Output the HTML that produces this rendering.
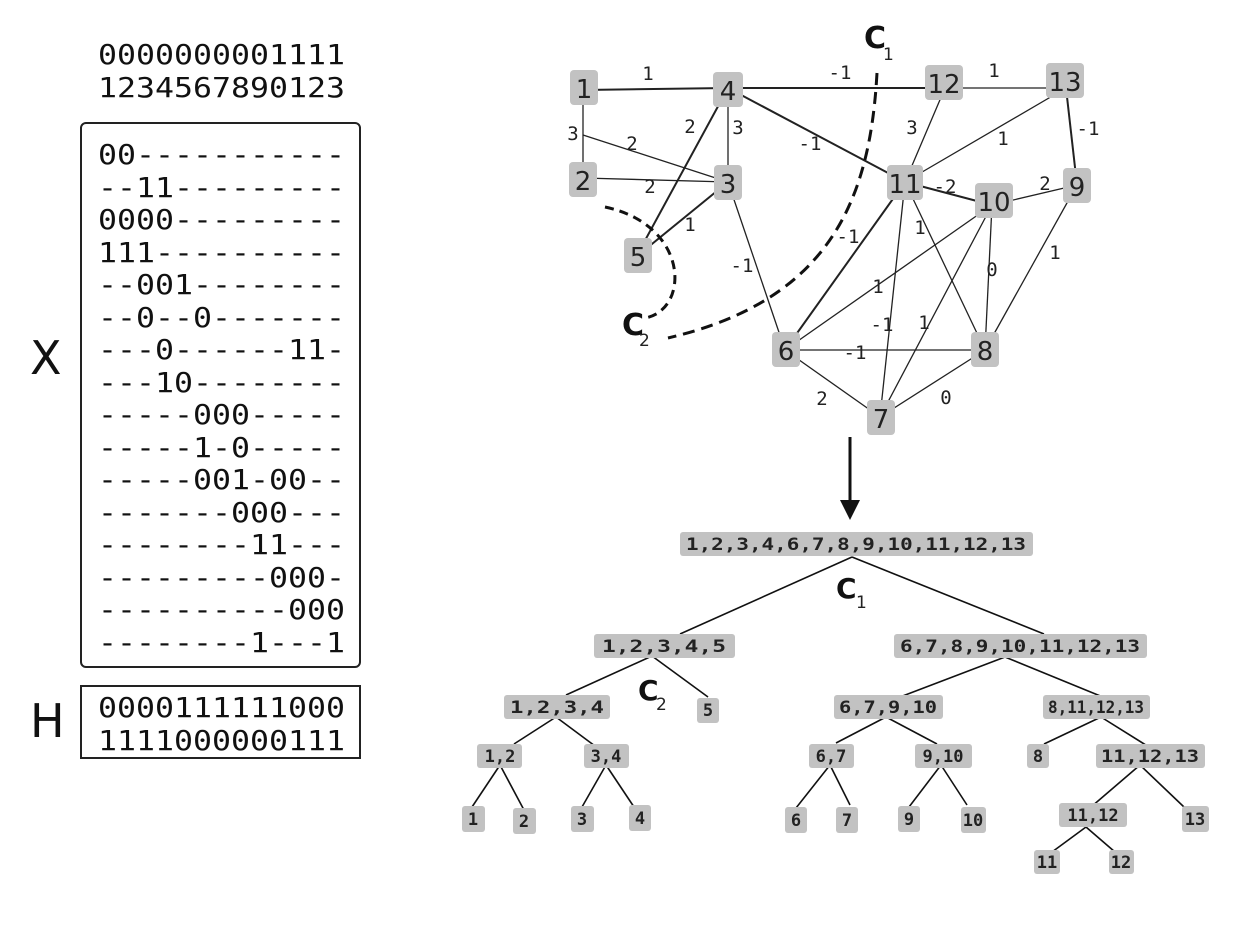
<!DOCTYPE html>
<html><head><meta charset="utf-8"><style>
html,body{margin:0;padding:0;background:#fff;}
svg{display:block;}
.m{font-family:"DejaVu Sans Mono","Liberation Mono",monospace;font-size:28px;fill:#111;}
.n{font-family:"DejaVu Sans","Liberation Sans",sans-serif;font-size:26px;fill:#222;text-anchor:middle;}
.w{font-family:"DejaVu Sans Mono","Liberation Mono",monospace;font-size:19px;fill:#222;text-anchor:middle;}
.t{font-family:"DejaVu Sans Mono","Liberation Mono",monospace;font-size:17px;font-weight:bold;fill:#222;text-anchor:middle;}
.c{font-family:"DejaVu Sans","Liberation Sans",sans-serif;font-size:30px;font-weight:bold;fill:#111;}
.s{font-family:"DejaVu Sans","Liberation Sans",sans-serif;font-size:17px;fill:#222;}
.box{fill:#c2c2c2;}
</style></head><body>
<svg width="1242" height="928" viewBox="0 0 1242 928" xmlns="http://www.w3.org/2000/svg">
<text class="m" x="98" y="64" textLength="247" lengthAdjust="spacingAndGlyphs">0000000001111</text>
<text class="m" x="98" y="97" textLength="247" lengthAdjust="spacingAndGlyphs">1234567890123</text>
<rect x="81" y="123" width="279" height="544" rx="5" fill="none" stroke="#222" stroke-width="2"/>
<g class="m">
<text x="98" y="164" textLength="247" lengthAdjust="spacingAndGlyphs">00-----------</text>
<text x="98" y="197" textLength="247" lengthAdjust="spacingAndGlyphs">--11---------</text>
<text x="98" y="229" textLength="247" lengthAdjust="spacingAndGlyphs">0000---------</text>
<text x="98" y="262" textLength="247" lengthAdjust="spacingAndGlyphs">111----------</text>
<text x="98" y="294" textLength="247" lengthAdjust="spacingAndGlyphs">--001--------</text>
<text x="98" y="327" textLength="247" lengthAdjust="spacingAndGlyphs">--0--0-------</text>
<text x="98" y="359" textLength="247" lengthAdjust="spacingAndGlyphs">---0------11-</text>
<text x="98" y="392" textLength="247" lengthAdjust="spacingAndGlyphs">---10--------</text>
<text x="98" y="424" textLength="247" lengthAdjust="spacingAndGlyphs">-----000-----</text>
<text x="98" y="457" textLength="247" lengthAdjust="spacingAndGlyphs">-----1-0-----</text>
<text x="98" y="489" textLength="247" lengthAdjust="spacingAndGlyphs">-----001-00--</text>
<text x="98" y="522" textLength="247" lengthAdjust="spacingAndGlyphs">-------000---</text>
<text x="98" y="554" textLength="247" lengthAdjust="spacingAndGlyphs">--------11---</text>
<text x="98" y="587" textLength="247" lengthAdjust="spacingAndGlyphs">---------000-</text>
<text x="98" y="619" textLength="247" lengthAdjust="spacingAndGlyphs">----------000</text>
<text x="98" y="652" textLength="247" lengthAdjust="spacingAndGlyphs">--------1---1</text>
</g>
<text x="30" y="374" style="font-family:'DejaVu Sans','Liberation Sans',sans-serif;font-size:46px;fill:#111">X</text>
<rect x="81" y="686" width="279" height="72" fill="none" stroke="#222" stroke-width="2"/>
<text class="m" x="98" y="717" textLength="247" lengthAdjust="spacingAndGlyphs">0000111111000</text>
<text class="m" x="98" y="750" textLength="247" lengthAdjust="spacingAndGlyphs">1111000000111</text>
<text x="30" y="737" style="font-family:'DejaVu Sans','Liberation Sans',sans-serif;font-size:46px;fill:#111">H</text>

<g stroke="#222" stroke-width="1.3" fill="none">
<line x1="583" y1="90" x2="728" y2="88" stroke-width="2"/>
<line x1="728" y1="88" x2="945" y2="88" stroke-width="2"/>
<line x1="945" y1="88" x2="1066" y2="88"/>
<line x1="583" y1="90" x2="583" y2="178"/>
<line x1="583" y1="135" x2="728" y2="182"/>
<line x1="583" y1="178" x2="728" y2="182"/>
<line x1="728" y1="88" x2="728" y2="182"/>
<line x1="728" y1="88" x2="636" y2="257" stroke-width="2"/>
<line x1="728" y1="182" x2="636" y2="257" stroke-width="2"/>
<line x1="728" y1="88" x2="905" y2="182" stroke-width="2"/>
<line x1="728" y1="182" x2="785" y2="350"/>
<line x1="945" y1="88" x2="905" y2="182"/>
<line x1="1066" y1="88" x2="905" y2="182"/>
<line x1="1066" y1="88" x2="1077" y2="185" stroke-width="2"/>
<line x1="905" y1="182" x2="992" y2="205" stroke-width="2"/>
<line x1="992" y1="205" x2="1077" y2="185"/>
<line x1="905" y1="182" x2="785" y2="350" stroke-width="2"/>
<line x1="905" y1="182" x2="880" y2="417"/>
<line x1="905" y1="182" x2="985" y2="350"/>
<line x1="992" y1="205" x2="785" y2="350"/>
<line x1="992" y1="205" x2="880" y2="417"/>
<line x1="992" y1="205" x2="985" y2="350"/>
<line x1="1077" y1="185" x2="985" y2="350"/>
<line x1="785" y1="350" x2="985" y2="350"/>
<line x1="785" y1="350" x2="880" y2="417"/>
<line x1="985" y1="350" x2="880" y2="417"/>
</g>
<path d="M877 73 C 870 200, 830 300, 668 338" stroke="#111" stroke-width="3" fill="none" stroke-dasharray="12,7"/>
<path d="M605 207 C 690 225, 690 310, 645 318" stroke="#111" stroke-width="3" fill="none" stroke-dasharray="9,6"/>
<text class="c" x="864" y="48">C</text><text class="s" x="883" y="60">1</text>
<text class="c" x="622" y="335">C</text><text class="s" x="639" y="346">2</text>

<g>
<rect class="box" x="570" y="70" width="28" height="35" rx="4"/>
<rect class="box" x="713" y="72" width="30" height="35" rx="4"/>
<rect class="box" x="925" y="65" width="38" height="35" rx="4"/>
<rect class="box" x="1046" y="63" width="38" height="35" rx="4"/>
<rect class="box" x="569" y="162" width="28" height="35" rx="4"/>
<rect class="box" x="714" y="165" width="28" height="35" rx="4"/>
<rect class="box" x="887" y="165" width="36" height="35" rx="4"/>
<rect class="box" x="975" y="183" width="38" height="35" rx="4"/>
<rect class="box" x="1063" y="168" width="28" height="35" rx="4"/>
<rect class="box" x="624" y="238" width="28" height="35" rx="4"/>
<rect class="box" x="772" y="332" width="28" height="35" rx="4"/>
<rect class="box" x="971" y="332" width="28" height="35" rx="4"/>
<rect class="box" x="867" y="400" width="28" height="35" rx="4"/>
</g>
<g class="n">
<text x="584" y="98">1</text><text x="728" y="100">4</text><text x="944" y="93">12</text><text x="1065" y="91">13</text>
<text x="583" y="190">2</text><text x="728" y="193">3</text><text x="905" y="193">11</text><text x="994" y="211">10</text>
<text x="1077" y="196">9</text><text x="638" y="266">5</text><text x="786" y="360">6</text><text x="985" y="360">8</text><text x="881" y="428">7</text>
</g>
<g class="w">
<text x="648" y="80">1</text><text x="840" y="79">-1</text><text x="994" y="77">1</text>
<text x="573" y="140">3</text><text x="632" y="150">2</text><text x="690" y="133">2</text><text x="738" y="134">3</text>
<text x="810" y="150">-1</text><text x="912" y="134">3</text><text x="1003" y="145">1</text><text x="1088" y="135">-1</text>
<text x="650" y="193">2</text><text x="690" y="231">1</text><text x="945" y="193">-2</text><text x="1045" y="190">2</text>
<text x="742" y="272">-1</text><text x="848" y="243">-1</text><text x="920" y="234">1</text><text x="992" y="276">0</text>
<text x="1055" y="259">1</text><text x="878" y="293">1</text><text x="882" y="331">-1</text><text x="924" y="329">1</text>
<text x="855" y="359">-1</text><text x="822" y="405">2</text><text x="946" y="404">0</text>
</g>
<line x1="850" y1="437" x2="850" y2="502" stroke="#111" stroke-width="3"/>
<polygon points="840,500 860,500 850,520" fill="#111"/>

<g stroke="#111" stroke-width="1.6">
<line x1="852" y1="557" x2="680" y2="634"/>
<line x1="852" y1="557" x2="1044" y2="634"/>
<line x1="652" y1="656" x2="566" y2="695"/>
<line x1="652" y1="656" x2="708" y2="697"/>
<line x1="1005" y1="657" x2="900" y2="697"/>
<line x1="1005" y1="657" x2="1115" y2="702"/>
<line x1="556" y1="717" x2="514" y2="744"/>
<line x1="556" y1="717" x2="595" y2="746"/>
<line x1="886" y1="717" x2="836" y2="743"/>
<line x1="886" y1="717" x2="937" y2="744"/>
<line x1="1101" y1="717" x2="1044" y2="744"/>
<line x1="1101" y1="717" x2="1149" y2="747"/>
<line x1="500" y1="765" x2="472" y2="807"/>
<line x1="500" y1="765" x2="524" y2="810"/>
<line x1="606" y1="765" x2="582" y2="807"/>
<line x1="606" y1="765" x2="634" y2="807"/>
<line x1="830" y1="765" x2="796" y2="808"/>
<line x1="830" y1="765" x2="850" y2="805"/>
<line x1="941" y1="765" x2="909" y2="807"/>
<line x1="941" y1="765" x2="967" y2="805"/>
<line x1="1140" y1="765" x2="1091" y2="807"/>
<line x1="1140" y1="765" x2="1184" y2="807"/>
<line x1="1086" y1="827" x2="1052" y2="852"/>
<line x1="1086" y1="827" x2="1115" y2="852"/>
</g>
<g>
<rect class="box" x="680" y="532" width="353" height="24" rx="3"/>
<rect class="box" x="594" y="634" width="141" height="24" rx="3"/>
<rect class="box" x="894" y="634" width="253" height="24" rx="3"/>
<rect class="box" x="504" y="695" width="106" height="24" rx="3"/>
<rect class="box" x="697" y="698" width="22" height="25" rx="3"/>
<rect class="box" x="834" y="695" width="109" height="24" rx="3"/>
<rect class="box" x="1043" y="695" width="107" height="24" rx="3"/>
<rect class="box" x="477" y="744" width="45" height="24" rx="3"/>
<rect class="box" x="584" y="744" width="45" height="24" rx="3"/>
<rect class="box" x="809" y="744" width="45" height="24" rx="3"/>
<rect class="box" x="915" y="744" width="57" height="24" rx="3"/>
<rect class="box" x="1027" y="744" width="22" height="24" rx="3"/>
<rect class="box" x="1096" y="744" width="109" height="24" rx="3"/>
<rect class="box" x="462" y="806" width="23" height="26" rx="3"/>
<rect class="box" x="513" y="808" width="23" height="26" rx="3"/>
<rect class="box" x="571" y="806" width="23" height="26" rx="3"/>
<rect class="box" x="629" y="805" width="22" height="26" rx="3"/>
<rect class="box" x="785" y="807" width="22" height="26" rx="3"/>
<rect class="box" x="836" y="807" width="22" height="26" rx="3"/>
<rect class="box" x="898" y="806" width="22" height="26" rx="3"/>
<rect class="box" x="961" y="807" width="25" height="26" rx="3"/>
<rect class="box" x="1059" y="803" width="68" height="24" rx="3"/>
<rect class="box" x="1182" y="806" width="27" height="26" rx="3"/>
<rect class="box" x="1034" y="850" width="26" height="24" rx="3"/>
<rect class="box" x="1109" y="850" width="25" height="24" rx="3"/>
</g>
<g class="t">
<text x="856" y="550" textLength="340" lengthAdjust="spacingAndGlyphs">1,2,3,4,6,7,8,9,10,11,12,13</text>
<text x="664" y="652" textLength="124" lengthAdjust="spacingAndGlyphs">1,2,3,4,5</text>
<text x="1020" y="652" textLength="240" lengthAdjust="spacingAndGlyphs">6,7,8,9,10,11,12,13</text>
<text x="557" y="713" textLength="94" lengthAdjust="spacingAndGlyphs">1,2,3,4</text>
<text x="708" y="716">5</text>
<text x="888" y="713" textLength="98" lengthAdjust="spacingAndGlyphs">6,7,9,10</text>
<text x="1096" y="713" textLength="96" lengthAdjust="spacingAndGlyphs">8,11,12,13</text>
<text x="500" y="762">1,2</text>
<text x="606" y="762">3,4</text>
<text x="831" y="762">6,7</text>
<text x="943" y="762">9,10</text>
<text x="1038" y="762">8</text>
<text x="1150" y="762" textLength="98" lengthAdjust="spacingAndGlyphs">11,12,13</text>
<text x="473" y="825">1</text><text x="524" y="827">2</text><text x="582" y="825">3</text><text x="640" y="824">4</text>
<text x="796" y="826">6</text><text x="847" y="826">7</text><text x="909" y="825">9</text><text x="973" y="826">10</text>
<text x="1093" y="821">11,12</text><text x="1195" y="825">13</text>
<text x="1047" y="868">11</text><text x="1121" y="868">12</text>
</g>
<text class="c" x="836" y="598" style="font-size:28px">C</text><text class="s" x="856" y="608">1</text>
<text class="c" x="638" y="700" style="font-size:28px">C</text><text class="s" x="656" y="710">2</text>
</svg>
</body></html>
